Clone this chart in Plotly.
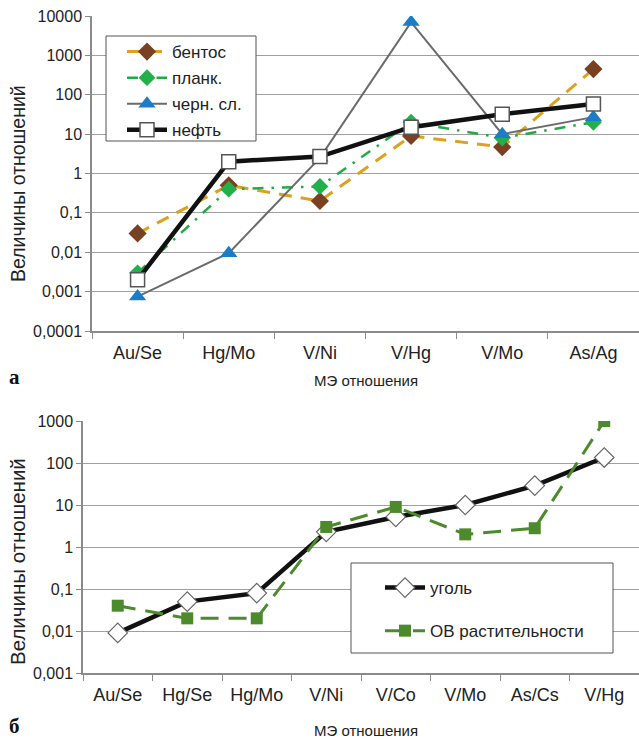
import plotly.graph_objects as go

# ---- Data: panel a ----
cats_a = ["Au/Se", "Hg/Mo", "V/Ni", "V/Hg", "V/Mo", "As/Ag"]
bentos = [0.03, 0.5, 0.2, 9, 4.7, 450]
plank = [0.003, 0.4, 0.47, 20, 8, 20]
chern = [0.00075, 0.0095, 2.5, 7000, 10, 27]
neft = [0.002, 2.0, 2.7, 15, 32, 58]
yticks_a = [0.0001, 0.001, 0.01, 0.1, 1, 10, 100, 1000, 10000]
ytext_a = ["0,0001", "0,001", "0,01", "0,1", "1", "10", "100", "1000", "10000"]

# ---- Data: panel b ----
cats_b = ["Au/Se", "Hg/Se", "Hg/Mo", "V/Ni", "V/Co", "V/Mo", "As/Cs", "V/Hg"]
ugol = [0.009, 0.05, 0.08, 2.3, 5.2, 10, 29, 135]
ov = [0.04, 0.02, 0.02, 3.0, 9, 2.0, 2.8, 1000]
yticks_b = [0.001, 0.01, 0.1, 1, 10, 100, 1000]
ytext_b = ["0,001", "0,01", "0,1", "1", "10", "100", "1000"]

W, H = 639, 740
FONT = "Liberation Sans, Arial, sans-serif"
TXT = "#222222"


def px(x, y):
    return x / W, 1 - y / H


fig = go.Figure()

# panel a traces
fig.add_trace(go.Scatter(x=cats_a, y=bentos, name="бентос", mode="lines+markers",
                         line=dict(color="#DCA11E", width=3, dash="13px,9px"),
                         marker=dict(symbol="diamond", size=14, color="#7A4022"),
                         xaxis="x", yaxis="y", legend="legend", legendgroup="a1"))
fig.add_trace(go.Scatter(x=cats_a, y=plank, name="планк.", mode="lines+markers",
                         line=dict(color="#22AA48", width=2.5, dash="11px,8px,2.5px,8px"),
                         marker=dict(symbol="diamond", size=13, color="#22B04A"),
                         xaxis="x", yaxis="y", legend="legend", legendgroup="a2"))
fig.add_trace(go.Scatter(x=cats_a, y=chern, name="черн. сл.", mode="lines+markers",
                         line=dict(color="#6A6A6A", width=2),
                         marker=dict(symbol="triangle-up", size=15, color="#1B7DC6"),
                         xaxis="x", yaxis="y", legend="legend", legendgroup="a3"))
fig.add_trace(go.Scatter(x=cats_a, y=neft, name="нефть", mode="lines+markers",
                         line=dict(color="#111111", width=4.5),
                         marker=dict(symbol="square", size=14, color="white",
                                     line=dict(color="#555555", width=1.5)),
                         xaxis="x", yaxis="y", legend="legend", legendgroup="a4"))

# panel b traces
fig.add_trace(go.Scatter(x=cats_b, y=ugol, name="уголь", mode="lines+markers",
                         line=dict(color="#111111", width=4.5),
                         marker=dict(symbol="diamond", size=15, color="white",
                                     line=dict(color="#666666", width=1.2)),
                         xaxis="x2", yaxis="y2", legend="legend2", legendgroup="b1"))
fig.add_trace(go.Scatter(x=cats_b, y=ov, name="ОВ растительности", mode="lines+markers",
                         line=dict(color="#4C8A2C", width=3, dash="18px,10px"),
                         marker=dict(symbol="square", size=12, color="#4C8A2C"),
                         xaxis="x2", yaxis="y2", legend="legend2", legendgroup="b2"))

line_common = dict(showline=True, linecolor="#8a8a8a", linewidth=1.5, automargin=False)

xa = dict(type="category", showgrid=False, ticks="outside", tickson="boundaries",
          ticklen=6, tickcolor="#8a8a8a", ticklabelstandoff=5,
          tickfont=dict(family=FONT, size=18, color=TXT), **line_common)
ya = dict(type="log", showgrid=True, gridcolor="#a0a0a0", gridwidth=1,
          ticks="outside", ticklen=5, tickcolor="#8a8a8a", zeroline=False,
          tickfont=dict(family=FONT, size=16, color=TXT), **line_common)

fig.update_layout(
    width=W, height=H, margin=dict(l=0, r=0, t=0, b=0, pad=0, autoexpand=False),
    paper_bgcolor="white", plot_bgcolor="white",
    font=dict(family=FONT, color=TXT),
    xaxis=dict(domain=[92 / W, 1.0], anchor="y", range=[-0.5, 5.5], **xa),
    yaxis=dict(domain=[1 - 331 / H, 1 - 16 / H], anchor="x", range=[-4, 4],
               tickvals=yticks_a, ticktext=ytext_a, **ya),
    xaxis2=dict(domain=[83 / W, 1.0], anchor="y2", range=[-0.5, 7.5], **xa),
    yaxis2=dict(domain=[1 - 673 / H, 1 - 421 / H], anchor="x2", range=[-3, 3],
                tickvals=yticks_b, ticktext=ytext_b, **ya),
    legend=dict(x=px(122, 0)[0], y=px(0, 34)[1], xanchor="left", yanchor="top",
                bgcolor="rgba(0,0,0,0)", borderwidth=0,
                font=dict(family=FONT, size=17, color=TXT),
                tracegroupgap=1, itemwidth=40),
    legend2=dict(x=px(380, 0)[0], y=px(0, 570)[1], xanchor="left", yanchor="top",
                 bgcolor="rgba(0,0,0,0)", borderwidth=0,
                 font=dict(family=FONT, size=17, color=TXT),
                 tracegroupgap=18, itemwidth=40),
    showlegend=True,
)

# legend frames (decoration)
shapes = [
    dict(type="rect", xref="paper", yref="paper",
         x0=px(106, 0)[0], x1=px(256, 0)[0], y0=px(0, 141)[1], y1=px(0, 36)[1],
         fillcolor="white", line=dict(color="#555555", width=1), layer="above"),
    dict(type="rect", xref="paper", yref="paper",
         x0=px(351, 0)[0], x1=px(613, 0)[0], y0=px(0, 653)[1], y1=px(0, 563)[1],
         fillcolor="white", line=dict(color="#555555", width=1), layer="above"),
]

annotations = [
    dict(text="Величины отношений", x=px(18, 0)[0], y=px(0, 184)[1],
         xanchor="center", yanchor="middle", textangle=-90, showarrow=False,
         font=dict(family=FONT, size=19.5, color=TXT)),
    dict(text="Величины отношений", x=px(17, 0)[0], y=px(0, 562)[1],
         xanchor="center", yanchor="middle", textangle=-90, showarrow=False,
         font=dict(family=FONT, size=20.5, color=TXT)),
    dict(text="МЭ отношения", x=px(366, 0)[0], y=px(0, 381)[1],
         xanchor="center", yanchor="middle", showarrow=False,
         font=dict(family=FONT, size=15, color=TXT)),
    dict(text="МЭ отношения", x=px(366, 0)[0], y=px(0, 730)[1],
         xanchor="center", yanchor="middle", showarrow=False,
         font=dict(family=FONT, size=15, color=TXT)),
    dict(text="<b>а</b>", x=px(14, 0)[0], y=px(0, 377)[1],
         xanchor="center", yanchor="middle", showarrow=False,
         font=dict(family="Liberation Serif, DejaVu Serif, serif", size=21, color="#111111")),
    dict(text="<b>б</b>", x=px(14, 0)[0], y=px(0, 726)[1],
         xanchor="center", yanchor="middle", showarrow=False,
         font=dict(family="Liberation Serif, DejaVu Serif, serif", size=21, color="#111111")),
]
for a in annotations:
    a.update(xref="paper", yref="paper")
fig.update_layout(annotations=annotations, shapes=shapes)

fig.write_html("out.html")
